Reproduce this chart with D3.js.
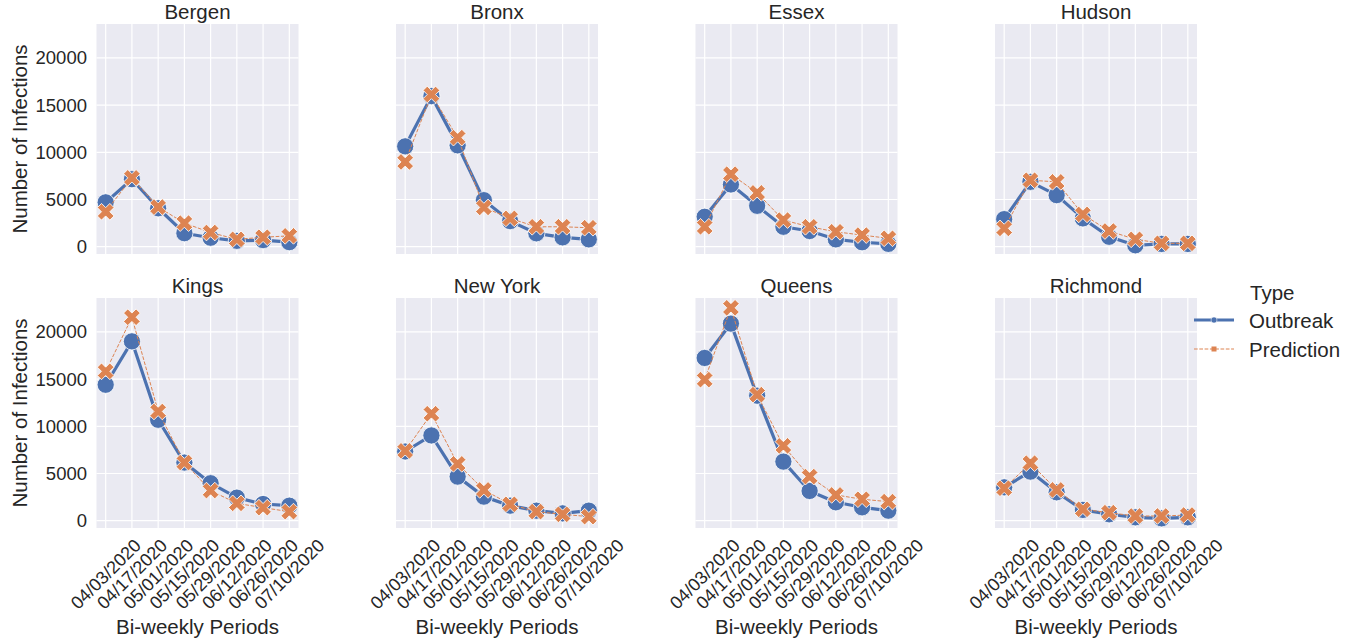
<!DOCTYPE html>
<html>
<head>
<meta charset="utf-8">
<script src="https://cdn.jsdelivr.net/npm/d3@7"></script>
<style>
  body { margin: 0; background: #fff; }
  text { font-family: "Liberation Sans", Arial, sans-serif; fill: #262626; }
</style>
</head>
<body>
<script>
// bi-weekly periods and counties
var periods = ["04/03/2020", "04/17/2020", "05/01/2020", "05/15/2020",
               "05/29/2020", "06/12/2020", "06/26/2020", "07/10/2020"];
var counties = ["Bergen", "Bronx", "Essex", "Hudson", "Kings", "New York", "Queens", "Richmond"];

// one row per county, same order as counties
var outbreak = [
  [4700, 7150, 4070, 1430, 950, 620, 700, 480],
  [10630, 15950, 10740, 4930, 2710, 1420, 990, 780],
  [3170, 6590, 4330, 2110, 1660, 780, 470, 300],
  [2920, 6870, 5460, 3000, 1050, 150, 290, 290],
  [14400, 19000, 10690, 6160, 3970, 2440, 1770, 1590],
  [7330, 9030, 4670, 2550, 1590, 1060, 780, 1060],
  [17240, 20880, 13240, 6260, 3150, 1950, 1420, 1060],
  [3540, 5200, 3010, 1140, 680, 360, 250, 360]
];
var prediction = [
  [3700, 7290, 4200, 2500, 1500, 780, 1000, 1150],
  [8980, 16120, 11550, 4160, 3000, 2110, 2110, 2010],
  [2110, 7680, 5700, 2820, 2110, 1580, 1230, 890],
  [1940, 7040, 6870, 3420, 1660, 780, 360, 360],
  [15820, 21550, 11570, 6160, 3190, 1840, 1380, 960],
  [7400, 11330, 6020, 3260, 1740, 960, 680, 430],
  [14940, 22550, 13350, 7930, 4670, 2730, 2270, 2020],
  [3440, 6090, 3260, 1210, 850, 500, 500, 600]
];
var yTicks = [0, 5000, 10000, 15000, 20000];

var blue = "#4c72b0", orange = "#dd8452";
var W = 1359, H = 643;
var pw = 202, ph = 230;
var lefts = [96.5, 396, 695.5, 995], tops = [24, 298];

var svg = d3.select("body").append("svg")
  .attr("width", W).attr("height", H);

var x = d3.scalePoint().domain(periods).range([0, pw]).padding(0.35);
var y = d3.scaleLinear().domain([-773, 23590]).range([ph, 0]);

// filled X marker like matplotlib's "X"
function xMarker(u) {
  var p = [[-1,-3],[1,-3],[1,-1],[3,-1],[3,1],[1,1],[1,3],[-1,3],[-1,1],[-3,1],[-3,-1],[-1,-1]];
  return "M" + p.map(function(q) { return (q[0]*u) + "," + (q[1]*u); }).join("L") + "Z";
}

var line = d3.line()
  .x(function(d, i) { return x(periods[i]); })
  .y(function(d) { return y(d); });

counties.forEach(function(name, k) {
  var col = k % 4, row = Math.floor(k / 4);
  var g = svg.append("g").attr("transform", "translate(" + lefts[col] + "," + tops[row] + ")");

  g.append("rect").attr("width", pw).attr("height", ph).attr("fill", "#eaeaf2");

  g.selectAll(".hg").data(yTicks).enter().append("line")
    .attr("x1", 0).attr("x2", pw)
    .attr("y1", function(d) { return y(d); }).attr("y2", function(d) { return y(d); })
    .attr("stroke", "#fff").attr("stroke-width", 1.2);
  g.selectAll(".vg").data(periods).enter().append("line")
    .attr("y1", 0).attr("y2", ph)
    .attr("x1", function(d) { return x(d); }).attr("x2", function(d) { return x(d); })
    .attr("stroke", "#fff").attr("stroke-width", 1.2);

  g.append("text").attr("x", pw / 2).attr("y", -5.5)
    .attr("text-anchor", "middle").style("font-size", "20.5px").text(name);

  // outbreak
  g.append("path").datum(outbreak[k]).attr("d", line)
    .attr("fill", "none").attr("stroke", blue).attr("stroke-width", 3.2)
    .attr("stroke-linejoin", "round");
  g.selectAll(".ob").data(outbreak[k]).enter().append("circle")
    .attr("cx", function(d, i) { return x(periods[i]); })
    .attr("cy", function(d) { return y(d); })
    .attr("r", 8.6).attr("fill", blue).attr("stroke", "#fff").attr("stroke-width", 0.8);

  // prediction
  g.append("path").datum(prediction[k]).attr("d", line)
    .attr("fill", "none").attr("stroke", orange).attr("stroke-width", 1)
    .attr("stroke-dasharray", "3.7,1.6");
  g.selectAll(".pr").data(prediction[k]).enter().append("path")
    .attr("d", xMarker(2.95))
    .attr("transform", function(d, i) {
      return "translate(" + x(periods[i]) + "," + y(d) + ") rotate(45)";
    })
    .attr("fill", orange).attr("stroke", "#fff").attr("stroke-width", 0.8);

  if (col === 0) {
    g.selectAll(".yl").data(yTicks).enter().append("text")
      .attr("x", -9.5).attr("y", function(d) { return y(d); })
      .attr("dy", "0.35em").attr("text-anchor", "end")
      .style("font-size", "18.5px").text(function(d) { return d; });
    g.append("text")
      .attr("transform", "translate(" + (-77) + "," + (ph / 2) + ") rotate(-90)")
      .attr("dy", "0.35em").attr("text-anchor", "middle")
      .style("font-size", "20.5px").text("Number of Infections");
  }

  if (row === 1) {
    g.selectAll(".xl").data(periods).enter().append("text")
      .attr("transform", function(d) { return "translate(" + x(d) + "," + (ph + 46) + ") rotate(-45)"; })
      .attr("dy", "0.35em").attr("text-anchor", "middle")
      .style("font-size", "18px").text(function(d) { return d; });
    g.append("text").attr("x", pw / 2).attr("y", ph + 106)
      .attr("text-anchor", "middle").style("font-size", "20.5px").text("Bi-weekly Periods");
  }
});

// legend
var lg = svg.append("g").attr("transform", "translate(1194,0)");
lg.append("text").attr("x", 56).attr("y", 300).style("font-size", "20.5px").text("Type");
lg.append("line").attr("x1", 0).attr("x2", 40).attr("y1", 320).attr("y2", 320)
  .attr("stroke", blue).attr("stroke-width", 3);
lg.append("circle").attr("cx", 20).attr("cy", 320).attr("r", 3).attr("fill", blue)
  .attr("stroke", "#fff").attr("stroke-width", 0.5);
lg.append("text").attr("x", 55).attr("y", 328).style("font-size", "20.5px").text("Outbreak");
lg.append("line").attr("x1", 0).attr("x2", 40).attr("y1", 349).attr("y2", 349)
  .attr("stroke", orange).attr("stroke-width", 1).attr("stroke-dasharray", "3.7,1.6");
lg.append("rect").attr("x", 17.5).attr("y", 346.5).attr("width", 5).attr("height", 5).attr("fill", orange);
lg.append("text").attr("x", 55).attr("y", 357).style("font-size", "20.5px").text("Prediction");
</script>
</body>
</html>
